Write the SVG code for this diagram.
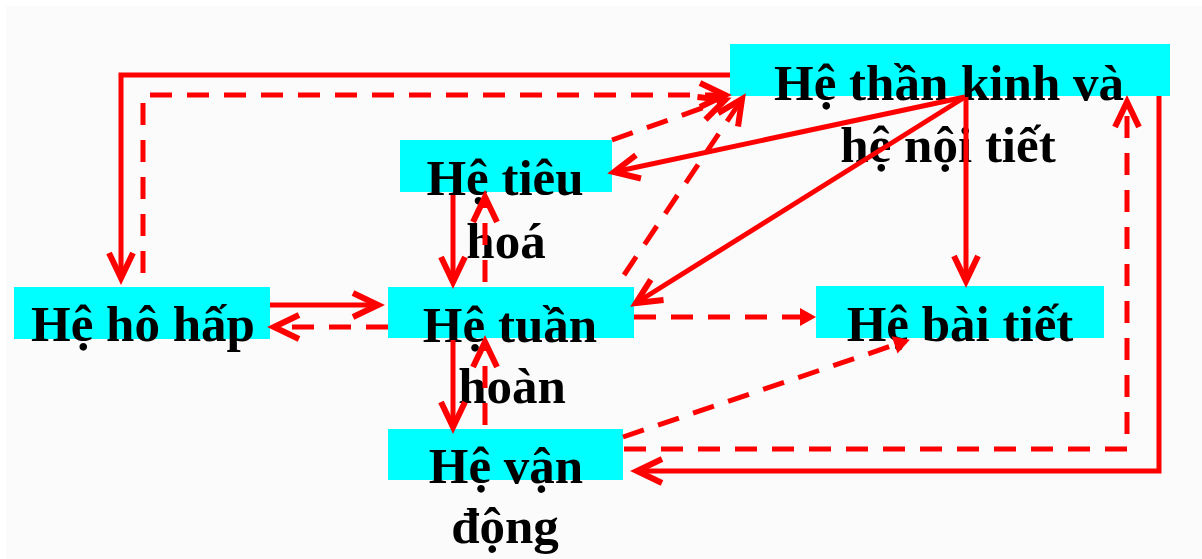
<svg xmlns="http://www.w3.org/2000/svg" width="1202" height="559" viewBox="0 0 1202 559">
<style>
.box{fill:#00ffff}
.t{font-family:"Liberation Serif","Times New Roman",serif;font-weight:bold;font-size:51px;fill:#000;text-anchor:middle}
.s{fill:none;stroke:#ff0000;stroke-width:5}
.d{fill:none;stroke:#ff0000;stroke-width:5;stroke-dasharray:22 15}
.ch{marker-end:url(#chev)}
.tr{marker-end:url(#tri)}
</style>
<defs>
<marker id="chev" markerUnits="userSpaceOnUse" viewBox="-32 -18 40 36" markerWidth="40" markerHeight="36" refX="0" refY="0" orient="auto" overflow="visible">
<path d="M-25,-12 L0,0 L-25,12" fill="none" stroke="#ff0000" stroke-width="6" stroke-linejoin="miter"/>
</marker>
<marker id="tri" markerUnits="userSpaceOnUse" viewBox="-20 -12 28 24" markerWidth="28" markerHeight="24" refX="0" refY="0" orient="auto" overflow="visible">
<path d="M-12,-9 L4,0 L-12,9 z" fill="#ff0000"/>
</marker>
</defs>
<rect x="0" y="0" width="1202" height="559" fill="#ffffff"/>
<rect x="6" y="6" width="1196" height="553" fill="#fbfbfb"/>

<g id="node-than-kinh">
<rect class="box" x="730" y="44" width="440" height="52"/>
<text class="t" x="949" y="100">Hệ thần kinh và</text>
<text class="t" x="948" y="162">hệ nội tiết</text>
</g>
<g id="node-tieu-hoa">
<rect class="box" x="400" y="140" width="212" height="52"/>
<text class="t" x="505" y="195">Hệ tiêu</text>
<text class="t" x="506" y="258">hoá</text>
</g>
<g id="node-ho-hap">
<rect class="box" x="14" y="287" width="256" height="52"/>
<text class="t" x="143" y="341">Hệ hô hấp</text>
</g>
<g id="node-tuan-hoan">
<rect class="box" x="388" y="287" width="246" height="51"/>
<text class="t" x="510" y="342">Hệ tuần</text>
<text class="t" x="512" y="403">hoàn</text>
</g>
<g id="node-van-dong">
<rect class="box" x="388" y="429" width="235" height="51"/>
<text class="t" x="506" y="483">Hệ vận</text>
<text class="t" x="505" y="543">động</text>
</g>
<g id="node-bai-tiet">
<rect class="box" x="816" y="286" width="288" height="52"/>
<text class="t" x="960" y="341">Hệ bài tiết</text>
</g>

<g id="connectors">
<path class="s ch" d="M730,75 H121 V278"/>
<path class="d ch" d="M143,273 V95 H725"/>
<path class="d ch" d="M612,140 L725,100"/>
<path class="d ch" d="M624,275 L742,99"/>
<path class="s ch" d="M965,97 L614,172"/>
<path class="s ch" d="M965,97 L636,303"/>
<path class="s ch" d="M966,97 V281"/>
<path class="d ch" d="M624,449 H1127 V102"/>
<path class="s ch" d="M1159,96 V471 H637"/>
<path class="d tr" d="M623,437 L906,341"/>
<path class="d tr" d="M634,317 H812"/>
<path class="s ch" d="M270,305 H378"/>
<path class="d ch" d="M388,327 H274"/>
<path class="s ch" d="M453,195 V282"/>
<path class="d ch" d="M485,282 V197"/>
<path class="s ch" d="M453,340 V427"/>
<path class="d ch" d="M485,425 V342"/>
</g>
</svg>
